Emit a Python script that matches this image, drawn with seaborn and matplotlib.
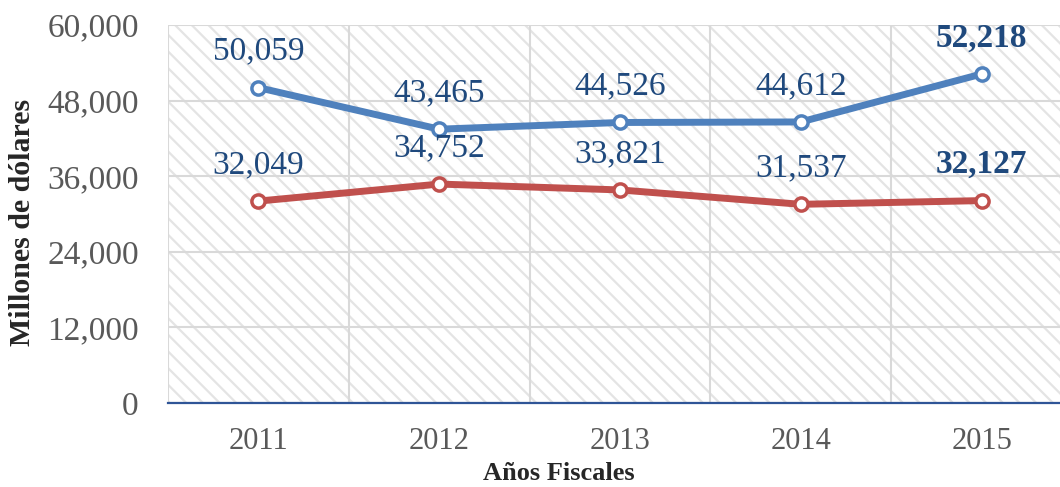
import numpy as np
import pandas as pd
import seaborn as sns
import matplotlib.pyplot as plt
from matplotlib.patches import Rectangle

# datos (millones de dólares)
anios = ["2011", "2012", "2013", "2014", "2015"]
serie_azul = [50059, 43465, 44526, 44612, 52218]
serie_roja = [32049, 34752, 33821, 31537, 32127]
y_ticks = [0, 12000, 24000, 36000, 48000, 60000]

sns.set_theme(style="white")
plt.rcParams['font.family'] = ['Liberation Serif', 'DejaVu Serif']
plt.rcParams['hatch.color'] = '#e4e4e4'
plt.rcParams['hatch.linewidth'] = 1.6

df = pd.DataFrame({"anio": anios, "azul": serie_azul, "roja": serie_roja})

fig = plt.figure(figsize=(10.6, 4.87), dpi=100)
ax = fig.add_axes([168 / 1060, 1 - 403 / 487, (1072 - 168) / 1060, (403 - 25) / 487])

# fondo rayado
ax.add_patch(Rectangle((0, 0), 1, 1, transform=ax.transAxes, facecolor='white',
                       edgecolor='#e4e4e4', hatch='\\\\', linewidth=0, zorder=0))

for col, color in [("azul", "#4f81bd"), ("roja", "#c0504d")]:
    sns.lineplot(data=df, x="anio", y=col, ax=ax, color=color, linewidth=5,
                 marker='o', markersize=9.5, markerfacecolor='white',
                 markeredgecolor=color, markeredgewidth=2.5, zorder=5)

# etiquetas de datos
for vals in [serie_azul, serie_roja]:
    for i, v in enumerate(vals):
        ultimo = i == len(vals) - 1
        ax.annotate(f"{v:,}", (anios[i], v), xytext=(0, 26), textcoords='offset points',
                    ha='center', va='center', fontsize=24, color='#1f497d',
                    fontweight='bold' if ultimo else 'normal', zorder=6)

ax.set_xlim(-0.5, 4.5)
ax.set_ylim(0, 60000)
ax.set_yticks(y_ticks)
ax.set_yticklabels([f"{t:,}" for t in y_ticks])
ax.set_xticks(range(len(anios)))
ax.set_xticks(np.arange(-0.5, 5, 1), minor=True)
ax.grid(axis='y', which='major', color='#d9d9d9', linewidth=1.5, zorder=1)
ax.grid(axis='x', which='minor', color='#d9d9d9', linewidth=1.5, zorder=1)
ax.set_axisbelow(True)
ax.tick_params(axis='both', which='both', length=0, labelsize=22, labelcolor='#595959')
ax.tick_params(axis='y', pad=21, labelsize=24)
ax.tick_params(axis='x', pad=17)

for s in ['top', 'right', 'left']:
    ax.spines[s].set_visible(False)
ax.spines['bottom'].set_color('#2f5597')
ax.spines['bottom'].set_linewidth(1.6)
ax.spines['bottom'].set_zorder(4)

ax.set_xlabel("")
ax.set_ylabel("")
fig.text(23 / 1060, 1 - 222 / 487, "Millones de dólares", rotation=90, ha='center', va='center',
         fontsize=21.5, fontweight='bold', color='#262626')
fig.text(559 / 1060, 1 - 474 / 487, "Años Fiscales", ha='center', va='center',
         fontsize=19, fontweight='bold', color='#262626')

fig.savefig("out.png", dpi=100)
